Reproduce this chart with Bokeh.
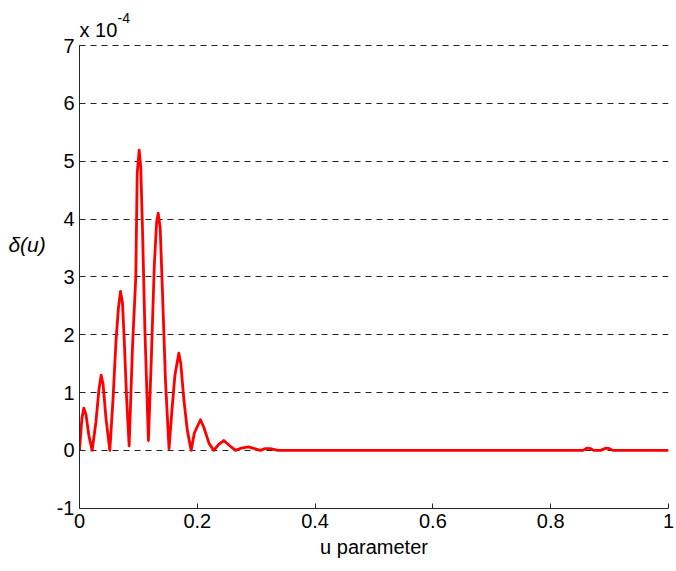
from bokeh.plotting import figure
from bokeh.models import ColumnDataSource, Label, FixedTicker
from bokeh.embed import file_html
from bokeh.resources import INLINE

# u parameter and delta(u) in units of 1e-4
u_param = [0, 0.004, 0.0073, 0.011, 0.016, 0.0215,
           0.028, 0.033, 0.0368, 0.040, 0.045, 0.0515,
           0.057, 0.062, 0.066, 0.0696, 0.073, 0.076, 0.080, 0.0843,
           0.090, 0.0956, 0.098, 0.1013, 0.104, 0.107, 0.111, 0.117,
           0.122, 0.127, 0.131, 0.1336, 0.137, 0.141, 0.146, 0.152,
           0.157, 0.162, 0.1686, 0.172, 0.177, 0.183, 0.1896,
           0.195, 0.2054, 0.211, 0.220, 0.228,
           0.236, 0.245, 0.255, 0.265,
           0.275, 0.287, 0.297, 0.307, 0.315, 0.324, 0.337,
           0.855, 0.862, 0.868, 0.873, 0.885, 0.894, 0.900, 0.905, 1.0]
delta_e4 = [0, 0.55, 0.73, 0.62, 0.25, 0.0,
            0.5, 1.05, 1.30, 1.15, 0.55, 0.0,
            0.9, 1.9, 2.45, 2.75, 2.55, 1.9, 0.9, 0.08,
            1.79, 3.0, 4.79, 5.19, 4.9, 3.8, 2.1, 0.17,
            1.6, 3.2, 3.95, 4.1, 3.85, 2.7, 1.2, 0.03,
            0.7, 1.3, 1.68, 1.5, 0.9, 0.35, 0.0,
            0.3, 0.53, 0.4, 0.12, 0.0,
            0.1, 0.17, 0.08, 0.0,
            0.04, 0.06, 0.03, 0.0, 0.03, 0.03, 0.0,
            0.0, 0.04, 0.03, 0.0, 0.0, 0.04, 0.03, 0.0, 0.0]

x_ticks = [0, 0.2, 0.4, 0.6, 0.8, 1]
x_tick_labels = ["0", "0.2", "0.4", "0.6", "0.8", "1"]
y_ticks = [-1, 0, 1, 2, 3, 4, 5, 6, 7]
y_tick_labels = ["-1", "0", "1", "2", "3", "4", "5", "6", "7"]

FONT = "Liberation Sans"

# frame extends above 7 so the "x 10^-4" multiplier can be drawn inside it
p = figure(width=676, height=571, output_backend="svg", toolbar_location=None,
           x_range=(0, 1), y_range=(-1.005, 7.7435),
           min_border_left=79, min_border_right=8,
           min_border_top=2, min_border_bottom=63)
p.outline_line_color = None
p.background_fill_color = "white"
p.border_fill_color = "white"

src = ColumnDataSource(dict(u=u_param, d=delta_e4))
p.line("u", "d", source=src, line_color="#ff0000", line_width=2.8,
       line_join="round")

for ax in (p.xaxis[0], p.yaxis[0]):
    ax.axis_line_color = "#262626"
    ax.major_tick_line_color = "#262626"
    ax.major_tick_in = 5
    ax.major_tick_out = 0
    ax.minor_tick_line_color = None
    ax.major_label_text_font = FONT
    ax.major_label_text_font_size = "20px"
    ax.major_label_text_color = "black"
    ax.axis_label_text_color = "black"

p.xaxis.ticker = FixedTicker(ticks=x_ticks)
p.xaxis.major_label_overrides = {t: s for t, s in zip(x_ticks, x_tick_labels)}
p.xaxis.major_label_standoff = 5
p.xaxis.axis_label = "u parameter"
p.xaxis.axis_label_text_font = FONT
p.xaxis.axis_label_text_font_style = "normal"
p.xaxis.axis_label_text_font_size = "20px"
p.xaxis.axis_label_standoff = 5

p.yaxis.ticker = FixedTicker(ticks=y_ticks)
p.yaxis.major_label_overrides = {t: s for t, s in zip(y_ticks, y_tick_labels)}
p.yaxis.major_label_standoff = 5
p.yaxis.bounds = (-1, 7)
p.yaxis.axis_label = "δ(u)\n"
p.yaxis.axis_label_orientation = "horizontal"
p.yaxis.axis_label_text_font = FONT
p.yaxis.axis_label_text_font_style = "italic"
p.yaxis.axis_label_text_font_size = "21px"
p.yaxis.axis_label_text_line_height = 1.0
p.yaxis.axis_label_standoff = 8

p.xgrid.grid_line_color = None
p.ygrid.ticker = FixedTicker(ticks=y_ticks)
p.ygrid.grid_line_color = "#222222"
p.ygrid.grid_line_dash = "6 5"
p.ygrid.grid_line_width = 1

p.add_layout(Label(x=0.0, y=7.4665, text="x 10", text_font=FONT,
                   text_font_size="20px", text_baseline="top",
                   text_color="black", text_align="left"))
p.add_layout(Label(x=0.0645, y=7.563, text="-4", text_font=FONT,
                   text_font_size="14px", text_baseline="top",
                   text_color="black", text_align="left"))

open("out.html", "w").write(file_html(p, INLINE))
